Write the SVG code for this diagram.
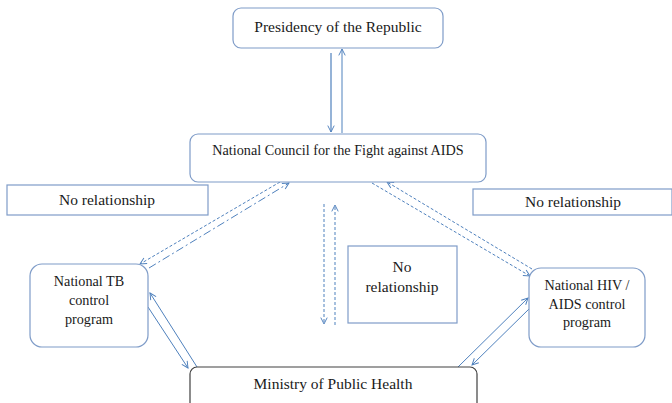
<svg xmlns="http://www.w3.org/2000/svg" width="672" height="403" viewBox="0 0 672 403">
<style>
text{font-family:"Liberation Serif","Times New Roman",serif;fill:#1a1a1a;text-anchor:middle}
.L{font-size:15.5px}
.S{font-size:14.2px}
.box{fill:#fff;stroke:#7f9cc8;stroke-width:1.2}
.dark{fill:#fff;stroke:#404040;stroke-width:1.2}
.c{fill:none;stroke:#4f81bd;stroke-width:1}
.d{stroke-dasharray:3,2}
.dd{stroke-dasharray:8,3,2,3}
</style>
<defs>
<marker id="ah" viewBox="0 0 10 10" refX="9" refY="5" markerWidth="8" markerHeight="8" markerUnits="userSpaceOnUse" orient="auto">
<path d="M1,1 L9,5 L1,9" fill="none" stroke="#4f81bd" stroke-width="1.2"/>
</marker>
</defs>
<rect width="672" height="403" fill="#fff"/>
<g id="connectors">
<line x1="331" y1="53" x2="331" y2="132" style="fill:none;stroke:#95b3d7;stroke-width:2" marker-end="url(#ah)"/>
<line class="c" x1="342" y1="133" x2="342" y2="49" marker-end="url(#ah)"/>
<line class="c d" x1="280" y1="182" x2="140" y2="264" marker-end="url(#ah)"/>
<line class="c dd" x1="149" y1="268" x2="289" y2="183" marker-end="url(#ah)"/>
<line class="c d" x1="372" y1="183" x2="530" y2="276" marker-end="url(#ah)"/>
<line class="c d" x1="532" y1="269" x2="387" y2="182" marker-end="url(#ah)"/>
<line class="c d" x1="324" y1="204" x2="324" y2="324" marker-end="url(#ah)"/>
<line class="c d" x1="335" y1="325" x2="335" y2="205" marker-end="url(#ah)"/>
<line class="c" x1="148" y1="307" x2="188" y2="368" marker-end="url(#ah)"/>
<line class="c" x1="197" y1="367" x2="150" y2="293" marker-end="url(#ah)"/>
<line class="c" x1="458" y1="367" x2="528" y2="298" marker-end="url(#ah)"/>
<line class="c" x1="530" y1="308" x2="472" y2="365" marker-end="url(#ah)"/>
</g>
<g id="presidency">
<rect class="box" x="233" y="8" width="210" height="40" rx="8"/>
<text class="L" x="338" y="32">Presidency of the Republic</text>
</g>
<g id="council">
<rect class="box" x="190" y="134" width="296" height="48" rx="8"/>
<text class="S" x="338" y="155">National Council for the Fight against AIDS</text>
</g>
<g id="norel-left">
<rect class="box" x="7" y="185" width="201" height="30"/>
<text class="L" x="107" y="205">No relationship</text>
</g>
<g id="norel-right">
<rect class="box" x="473" y="189" width="199" height="26"/>
<text class="L" x="573" y="207">No relationship</text>
</g>
<g id="norel-mid">
<rect class="box" x="348" y="246" width="109" height="77"/>
<text class="L" x="402" y="272">No</text>
<text class="L" x="402" y="292">relationship</text>
</g>
<g id="tb">
<rect class="box" x="30" y="264" width="118" height="83" rx="12"/>
<text class="S" x="89" y="286">National TB</text>
<text class="S" x="89" y="305">control</text>
<text class="S" x="89" y="324">program</text>
</g>
<g id="hiv">
<rect class="box" x="529" y="268" width="116" height="79" rx="12"/>
<text class="S" x="587" y="290">National HIV /</text>
<text class="S" x="587" y="309">AIDS control</text>
<text class="S" x="587" y="327">program</text>
</g>
<g id="ministry">
<rect class="dark" x="190" y="367" width="287" height="50" rx="7"/>
<text class="L" x="333" y="389">Ministry of Public Health</text>
</g>
</svg>
